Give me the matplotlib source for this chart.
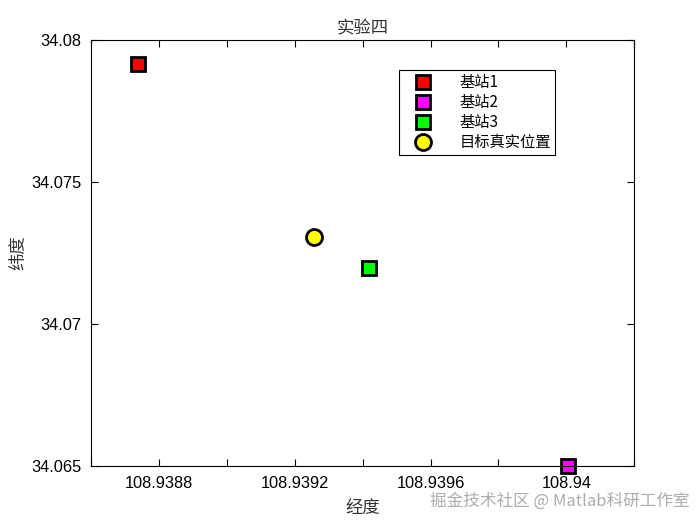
import matplotlib
matplotlib.use('Agg')
import matplotlib.pyplot as plt
import numpy as np

plt.rcParams['font.family'] = ['Liberation Sans', 'Noto Sans CJK SC', 'DejaVu Sans']

# station and target positions (lon, lat)
labels = ['基站1', '基站2', '基站3']
station_lon = [108.938738, 108.940005, 108.939420]
station_lat = [34.079160, 34.065000, 34.071970]
station_colors = ['#ff0000', '#ff00ff', '#00ff00']
target_lon = [108.939256]
target_lat = [34.073060]

xticks = [108.9386, 108.9388, 108.9390, 108.9392, 108.9394, 108.9396, 108.9398, 108.9400, 108.9402]
xticklabels = ['', '108.9388', '', '108.9392', '', '108.9396', '', '108.94', '']
yticks = [34.065, 34.07, 34.075, 34.08]
yticklabels = ['34.065', '34.07', '34.075', '34.08']

fig = plt.figure(figsize=(7, 5.25), dpi=100)
ax = fig.add_axes([0.13, 0.112, 0.776, 0.812])

for lon, lat, c, lab in zip(station_lon, station_lat, station_colors, labels):
    ax.plot(lon, lat, 's', markersize=10, markerfacecolor=c,
            markeredgecolor='black', markeredgewidth=2, label=lab, clip_on=False)
ax.plot(target_lon, target_lat, 'o', markersize=11.5, markerfacecolor='#ffff00',
        markeredgecolor='black', markeredgewidth=2, label='目标真实位置', clip_on=False)

ax.set_xlim(108.9386, 108.9402)
ax.set_ylim(34.065, 34.08)
ax.set_xticks(xticks)
ax.set_xticklabels(xticklabels)
ax.set_yticks(yticks)
ax.set_yticklabels(yticklabels)
ax.tick_params(direction='in', top=True, right=True, length=5, labelsize=11.8, pad=7)
for s in ax.spines.values():
    s.set_linewidth(0.8)

cjk = ['Noto Sans CJK SC', 'DejaVu Sans']
ax.set_title('实验四', family=cjk, fontsize=12.5, pad=5, color='#333333')
ax.set_xlabel('经度', family=cjk, fontsize=12.5, labelpad=6, color='#333333')
ax.set_ylabel('纬度', family=cjk, fontsize=12.5, labelpad=3, color='#333333')

leg = ax.legend(loc='upper left', bbox_to_anchor=(0.553, 0.947), fancybox=False,
                edgecolor='black', framealpha=1, prop={'family': cjk, 'size': 11},
                handletextpad=1.1, borderpad=0.25, labelspacing=0.2, handlelength=2.6)
leg.get_frame().set_linewidth(0.8)

fig.text(0.985, 0.045, '掘金技术社区 @ Matlab科研工作室', family=cjk, fontsize=12,
         color='#999999', alpha=0.8, ha='right', va='center')

fig.savefig('out.png', dpi=100)
